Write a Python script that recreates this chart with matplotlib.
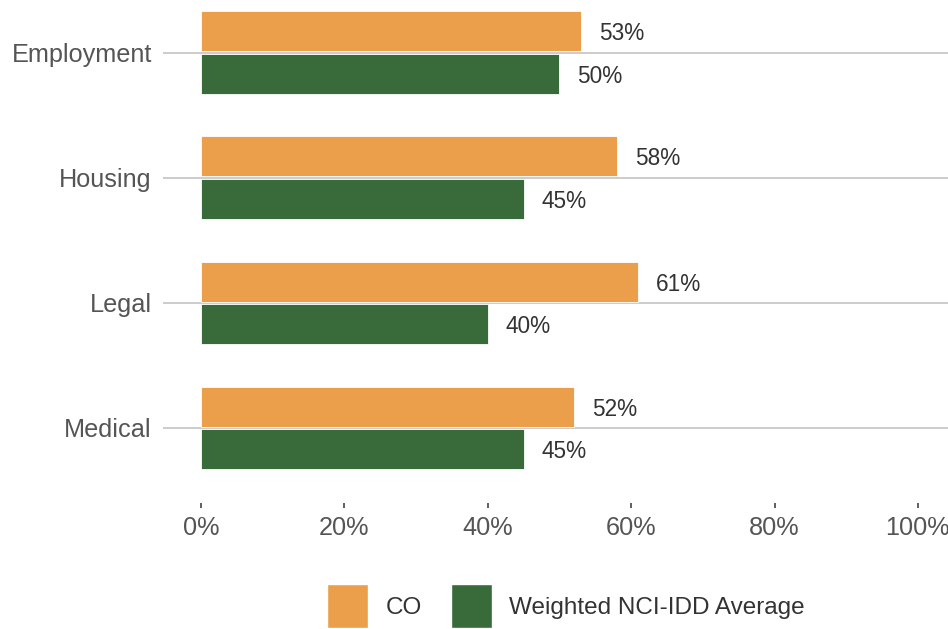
import matplotlib
matplotlib.use("Agg")
import matplotlib.pyplot as plt
import numpy as np
from matplotlib.patches import Patch

categories = ["Employment", "Housing", "Legal", "Medical"]
co_values = [53, 58, 61, 52]
nci_values = [50, 45, 40, 45]
series_names = ["CO", "Weighted NCI-IDD Average"]
x_ticks = [0, 20, 40, 60, 80, 100]

orange = "#EB9F4B"
green = "#386A3A"

plt.rcParams["font.family"] = ["Liberation Sans", "DejaVu Sans"]

fig = plt.figure(figsize=(9.48, 6.29), dpi=100)
ax = fig.add_axes([163 / 948, 126 / 629, 785 / 948, 503 / 629])

y = np.arange(len(categories))
h = 0.32
off = 0.17
ax.barh(y - off, co_values, height=h, color=orange, edgecolor="white", linewidth=0.6, zorder=3)
ax.barh(y + off, nci_values, height=h, color=green, edgecolor="white", linewidth=0.6, zorder=3)

for i in range(len(categories)):
    ax.text(co_values[i] + 2.5, y[i] - off + 0.02, f"{co_values[i]}%", va="center", ha="left",
            fontsize=16.3, color="#333333")
    ax.text(nci_values[i] + 2.5, y[i] + off + 0.02, f"{nci_values[i]}%", va="center", ha="left",
            fontsize=16.3, color="#333333")

ax.set_xlim(-5.3, 104.2)
ax.set_ylim(3.6, -0.42)
ax.set_yticks(y)
ax.set_yticklabels(categories, fontsize=18.2, color="#555555")
ax.set_xticks(x_ticks)
ax.set_xticklabels([f"{t}%" for t in x_ticks], fontsize=18.2, color="#555555")
ax.tick_params(axis="y", length=0, pad=8)
ax.tick_params(axis="x", length=3.6, width=1.2, color="#444444", pad=6)
ax.grid(axis="y", color="#C8C8C8", linewidth=1.3, zorder=1)
ax.grid(axis="x", visible=False)
for s in ax.spines.values():
    s.set_visible(False)

handles = [Patch(facecolor=orange, edgecolor="white"), Patch(facecolor=green, edgecolor="white")]
fig.legend(handles, series_names, loc="center", bbox_to_anchor=(566 / 948, 1 - 606 / 629),
           ncol=2, frameon=False, fontsize=17.5, handlelength=1.69, handleheight=2.35,
           handletextpad=0.7, columnspacing=1.2, labelcolor="#333333", borderpad=0)

fig.savefig("out.png", dpi=100)
